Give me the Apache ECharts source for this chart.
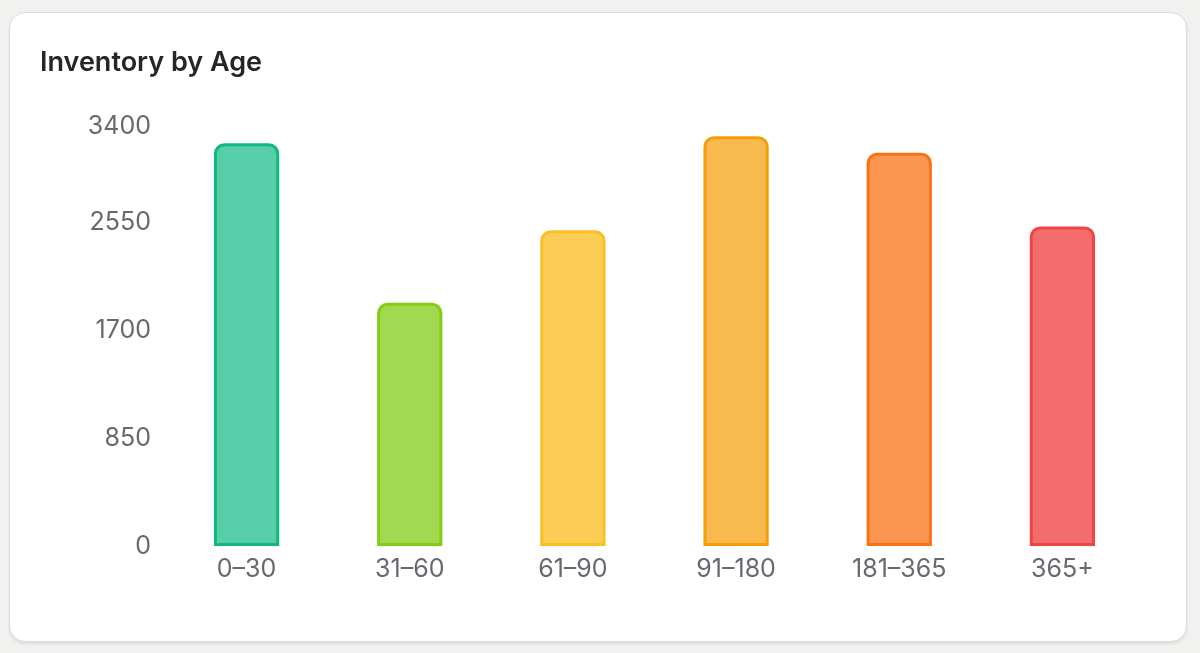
<!DOCTYPE html>
<html>
<head>
<meta charset="utf-8">
<title>Inventory by Age</title>
<script src="https://cdn.jsdelivr.net/npm/echarts@6/dist/echarts.min.js"></script>
<style>
    html, body { margin: 0; padding: 0; background: #f1f1ef; }
    body { width: 1200px; height: 653px; position: relative; overflow: hidden; }
    .card {
        position: absolute; left: 9px; top: 12px; width: 1176px; height: 628px;
        background: #fff; border: 1px solid #dcdcdc; border-radius: 16px;
        box-shadow: 0 2px 3px rgba(0,0,0,0.08);
    }
    #chart { width: 1176px; height: 628px; }
</style>
</head>
<body>
<div class="card"><div id="chart"></div></div>
<script>
// 数据
const categories = ['0–30', '31–60', '61–90', '91–180', '181–365', '365+'];
const quantities = [3170, 1915, 2485, 3225, 3095, 2515];
const yTicks = [0, 850, 1700, 2550, 3400];

// 颜色（边框 / 填充）
const strokes = ['#10b981', '#84cc16', '#fbbf24', '#f59e0b', '#f97316', '#ef4444'];
const fills = ['rgba(16,185,129,0.7)', 'rgba(132,204,22,0.75)', 'rgba(251,191,36,0.78)',
               'rgba(245,158,11,0.72)', 'rgba(249,115,22,0.75)', 'rgba(239,68,68,0.78)'];

const font = 'Inter, "Noto Sans", sans-serif';
const chart = echarts.init(document.getElementById('chart'));

chart.setOption({
    animation: false,
    title: {
        text: 'Inventory by Age',
        left: 25, top: 31,
        textStyle: { fontFamily: font, fontSize: 27, fontWeight: 600, color: '#262626' }
    },
    grid: { left: 155, right: 42, top: 101, bottom: 95 },
    xAxis: {
        type: 'category',
        data: categories,
        axisLine: { show: false },
        axisTick: { show: false },
        axisLabel: { fontFamily: font, fontSize: 25, color: '#67696e', margin: 11 }
    },
    yAxis: {
        type: 'value',
        min: yTicks[0],
        max: yTicks[yTicks.length - 1],
        interval: yTicks[1] - yTicks[0],
        splitLine: { show: false },
        axisLine: { show: false },
        axisTick: { show: false },
        axisLabel: {
            fontFamily: font, fontSize: 25, color: '#67696e', margin: 14,
            formatter: v => v === yTicks[yTicks.length - 1] ? '{top|' + v + '}' : String(v),
            rich: { top: { fontFamily: font, fontSize: 25, color: '#67696e', padding: [24, 0, 0, 0] } }
        }
    },
    series: [{
        type: 'bar',
        barWidth: '40%',
        data: quantities.map((v, i) => ({
            value: v,
            itemStyle: {
                color: fills[i],
                borderColor: strokes[i],
                borderWidth: 3,
                borderRadius: [9, 9, 0, 0]
            }
        }))
    }]
});
</script>
</body>
</html>
